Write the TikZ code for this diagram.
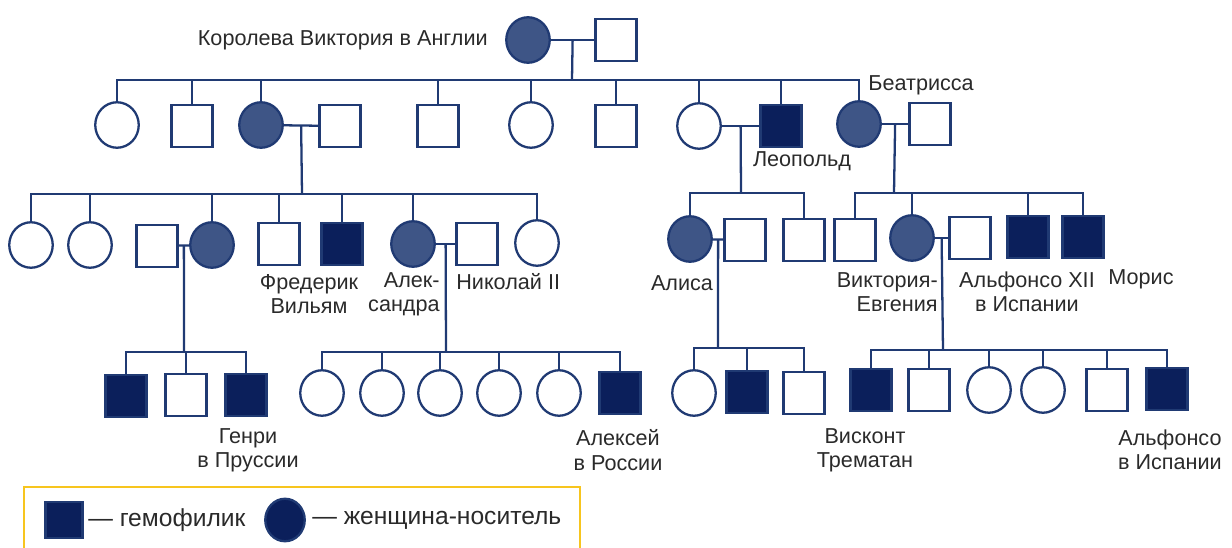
\documentclass[tikz,border=0pt]{standalone}
\usepackage{fontspec}
\setmainfont{Liberation Sans}
\usepackage{tikz}
\usetikzlibrary{positioning,calc,shapes.geometric}
\definecolor{kinBlue}{HTML}{203A73}
\definecolor{carrierBlue}{HTML}{3E5586}
\definecolor{hemoBlue}{HTML}{0B1F5B}
\definecolor{legendGold}{HTML}{F7C51E}
\definecolor{textGray}{HTML}{2A2A2A}
\tikzstyle{famLine}=[draw=kinBlue, line width=1.3pt]
\tikzstyle{male}=[rectangle, draw=kinBlue, line width=1.3pt, fill=white, minimum width=8.2mm, minimum height=8.3mm, inner sep=0pt]
\tikzstyle{female}=[ellipse, draw=kinBlue, line width=1.3pt, fill=white, minimum width=8.7mm, minimum height=9.1mm, inner sep=0pt]
\tikzstyle{carrier}=[female, fill=carrierBlue]
\tikzstyle{hemo}=[male, fill=hemoBlue]
\tikzstyle{lbl}=[text=textGray, font=\fontsize{12.3}{13.8}\selectfont, inner sep=0pt, align=center]
\tikzstyle{legendText}=[text=textGray, font=\fontsize{14}{16}\selectfont, inner sep=0pt, anchor=west]

\begin{document}
\begin{tikzpicture}[x=0.2mm, y=-0.2mm]
    \useasboundingbox (0,0) rectangle (1232,548);

    %Gen 0
    \node [style=carrier] (vict) at (528, 40) {};
    \node [style=male] (albert) at (616, 40) {};
    \node [style=lbl, anchor=east] (victLbl) at (488, 40) {Королева Виктория в Англии};
    \coordinate (m0) at ($(vict.east)!0.5!(albert.west)$);
    \coordinate (bar0) at (572, 80);

    %Gen 1
    \node [style=female] (g1a) at (117, 125) {};
    \node [style=male] (g1b) at (192, 126) {};
    \node [style=carrier] (g1c) at (261, 125) {};
    \node [style=male] (g1cSp) at (340, 126) {};
    \node [style=male] (g1d) at (438, 126) {};
    \node [style=female] (g1e) at (531, 125) {};
    \node [style=male] (g1f) at (616, 126) {};
    \node [style=female] (g1g) at (699, 126) {};
    \node [style=hemo] (leo) at (781, 126) {};
    \node [style=carrier] (bea) at (859, 124) {};
    \node [style=male] (beaSp) at (930, 124) {};
    \node [style=lbl] (leoLbl) at (802, 161) {Леопольд};
    \node [style=lbl, anchor=west] (beaLbl) at (868, 85) {Беатрисса};
    \coordinate (m1) at ($(g1c.east)!0.5!(g1cSp.west)$);
    \coordinate (m2) at ($(g1g.east)!0.5!(leo.west)$);
    \coordinate (m3) at ($(bea.east)!0.5!(beaSp.west)$);
    \coordinate (bar1) at (302, 194);
    \coordinate (bar2) at (741, 193);
    \coordinate (bar3) at (894, 193);

    %Gen 2
    \node [style=female] (g2a) at (31, 245) {};
    \node [style=female] (g2b) at (90, 245) {};
    \node [style=male] (ireneSp) at (157, 246) {};
    \node [style=carrier] (irene) at (212, 245) {};
    \node [style=male] (g2e) at (279, 244) {};
    \node [style=hemo] (fred) at (342, 244) {};
    \node [style=carrier] (alex) at (413, 244) {};
    \node [style=male] (nick) at (477, 244) {};
    \node [style=female] (g2i) at (537, 243) {};
    \node [style=carrier] (alice) at (690, 239) {};
    \node [style=male] (aliceSp) at (745, 240) {};
    \node [style=male] (g2k) at (804, 240) {};
    \node [style=male] (g2l) at (855, 240) {};
    \node [style=carrier] (vicEug) at (912, 238) {};
    \node [style=male] (alfonsoXII) at (970, 238) {};
    \node [style=hemo] (g2n) at (1028, 237) {};
    \node [style=hemo] (maurice) at (1083, 237) {};
    \node [style=lbl] (fredLbl) at (309, 294) {Фредерик\\Вильям};
    \node [style=lbl, align=right, anchor=east] (alexLbl) at (440, 294) {Алек-\\сандра};
    \node [style=lbl, anchor=west] (nickLbl) at (456, 282) {Николай II};
    \node [style=lbl] (aliceLbl) at (682, 283) {Алиса};
    \node [style=lbl, align=right, anchor=east] (vicEugLbl) at (938, 292) {Виктория-\\Евгения};
    \node [style=lbl] (alfonsoXIILbl) at (1027, 292) {Альфонсо XII\\в Испании};
    \node [style=lbl] (mauriceLbl) at (1141, 279) {Морис};
    \coordinate (m4) at ($(ireneSp.east)!0.5!(irene.west)$);
    \coordinate (m5) at ($(alex.east)!0.5!(nick.west)$);
    \coordinate (m6) at ($(alice.east)!0.5!(aliceSp.west)$);
    \coordinate (m7) at ($(vicEug.east)!0.5!(alfonsoXII.west)$);
    \coordinate (bar4) at (184, 352);
    \coordinate (bar5) at (446, 352);
    \coordinate (bar6) at (718, 348);
    \coordinate (bar7) at (943, 350);

    %Gen 3
    \node [style=hemo] (henry) at (126, 396) {};
    \node [style=male] (g3b) at (186, 395) {};
    \node [style=hemo] (g3c) at (246, 395) {};
    \node [style=female] (g3d) at (322, 393) {};
    \node [style=female] (g3e) at (382, 393) {};
    \node [style=female] (g3f) at (440, 393) {};
    \node [style=female] (g3g) at (499, 393) {};
    \node [style=female] (g3h) at (559, 393) {};
    \node [style=hemo] (alexei) at (620, 393) {};
    \node [style=female] (g3j) at (694, 393) {};
    \node [style=hemo] (g3k) at (747, 392) {};
    \node [style=male] (g3l) at (804, 393) {};
    \node [style=hemo] (visc) at (871, 390) {};
    \node [style=male] (g3n) at (929, 390) {};
    \node [style=female] (g3o) at (989, 390) {};
    \node [style=female] (g3p) at (1043, 390) {};
    \node [style=male] (g3q) at (1107, 390) {};
    \node [style=hemo] (alfonso) at (1167, 389) {};
    \node [style=lbl] (henryLbl) at (248, 450) {Генри\\в Пруссии};
    \node [style=lbl] (alexeiLbl) at (618, 450) {Алексей\\в России};
    \node [style=lbl] (viscLbl) at (865, 450) {Висконт\\Трематан};
    \node [style=lbl] (alfonsoLbl) at (1170, 450) {Альфонсо\\в Испании};

    % Marriages
    \draw [style=famLine] (vict) -- (albert);
    \draw [style=famLine] (g1c) -- (g1cSp);
    \draw [style=famLine] (g1g) -- (leo);
    \draw [style=famLine] (bea) -- (beaSp);
    \draw [style=famLine] (ireneSp) -- (irene);
    \draw [style=famLine] (alex) -- (nick);
    \draw [style=famLine] (alice) -- (aliceSp);
    \draw [style=famLine] (vicEug) -- (alfonsoXII);

    % Descent
    \draw [style=famLine] (m0) -- (bar0);
    \foreach \kid in {g1a,g1b,g1c,g1d,g1e,g1f,g1g,leo,bea}
        \draw [style=famLine] (bar0) -| (\kid.north);
    \draw [style=famLine] (m1) -- (bar1);
    \foreach \kid in {g2a,g2b,irene,g2e,fred,alex,g2i}
        \draw [style=famLine] (bar1) -| (\kid.north);
    \draw [style=famLine] (m2) -- (bar2);
    \foreach \kid in {alice,g2k}
        \draw [style=famLine] (bar2) -| (\kid.north);
    \draw [style=famLine] (m3) -- (bar3);
    \foreach \kid in {g2l,vicEug,g2n,maurice}
        \draw [style=famLine] (bar3) -| (\kid.north);
    \draw [style=famLine] (m4) -- (bar4);
    \foreach \kid in {henry,g3b,g3c}
        \draw [style=famLine] (bar4) -| (\kid.north);
    \draw [style=famLine] (m5) -- (bar5);
    \foreach \kid in {g3d,g3e,g3f,g3g,g3h,alexei}
        \draw [style=famLine] (bar5) -| (\kid.north);
    \draw [style=famLine] (m6) -- (bar6);
    \foreach \kid in {g3j,g3k,g3l}
        \draw [style=famLine] (bar6) -| (\kid.north);
    \draw [style=famLine] (m7) -- (bar7);
    \foreach \kid in {visc,g3n,g3o,g3p,g3q,alfonso}
        \draw [style=famLine] (bar7) -| (\kid.north);

    % Legend
    \draw [draw=legendGold, line width=1.6pt] (24, 548) -- (24, 487) -- (580, 487) -- (580, 548);
    \node [style=hemo, minimum width=7.4mm, minimum height=7.2mm] (legHemo) at (64, 520) {};
    \node [style=legendText] (legHemoTxt) at (88, 520) {— гемофилик};
    \node [style=female, fill=hemoBlue, minimum width=7.9mm, minimum height=8.5mm] (legCarrier) at (285, 520) {};
    \node [style=legendText] (legCarrierTxt) at (312, 520) {— женщина-носитель};
\end{tikzpicture}
\end{document}
